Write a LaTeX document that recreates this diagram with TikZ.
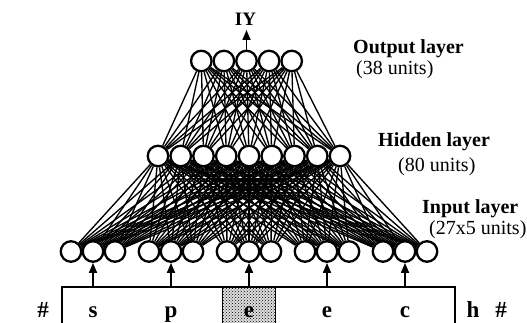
\documentclass[tikz,border=0pt]{standalone}
\usepackage{fontspec}
\setmainfont{Liberation Serif}
\usetikzlibrary{arrows.meta,patterns,backgrounds}
\begin{document}
\begin{tikzpicture}[x=1pt,y=-1pt,
  unit/.style={circle,draw,line width=2.3pt,fill=white,minimum size=20.5pt,inner sep=0pt},
  conn/.style={line width=1.35pt},
  uparrow/.style={line width=1.7pt,-{Triangle[length=10pt,width=8pt]}},
  lbl/.style={font=\bfseries\fontsize{20}{23}\selectfont,anchor=base west,inner sep=0pt},
  sublbl/.style={font=\fontsize{20}{23}\selectfont,anchor=base west,inner sep=0pt},
  letter/.style={font=\bfseries\fontsize{23}{26}\selectfont,anchor=base,inner sep=0pt}]
\useasboundingbox (0,0) rectangle (527,323);
% input layer
\foreach \g in {0,...,4}
  \foreach \j in {0,1,2}{
    \pgfmathsetmacro\xx{93+78*\g+22*(\j-1)}
    \node[unit] (i\g\j) at (\xx,251.5) {};
  }
% hidden layer
\foreach \k in {0,...,8}
  \node[unit] (h\k) at ({249+22.75*(\k-4)},156) {};
% output layer
\foreach \k in {0,...,4}
  \node[unit] (o\k) at ({246.5+22.6*(\k-2)},61) {};
% connections
\begin{scope}[on background layer]
  \foreach \g in {0,...,4}
    \foreach \j in {0,1,2}
      \foreach \k in {0,...,8}
        \draw[conn] (i\g\j) -- (h\k);
  \foreach \k in {0,...,8}
    \foreach \m in {0,...,4}
      \draw[conn] (h\k) -- (o\m);
\end{scope}
% output arrow and label
\node[font=\bfseries\fontsize{19}{21}\selectfont,inner sep=0pt] (iy) at (245.5,19) {IY};
\coordinate (iytip) at (246.5,30);
\draw[uparrow] (o2) -- (iytip);
% layer labels
\node[lbl] (outl) at (353,54) {Output layer};
\node[sublbl] (outs) at (356,75) {(38 units)};
\node[lbl] (hidl) at (378,147) {Hidden layer};
\node[sublbl] (hids) at (398,172) {(80 units)};
\node[lbl] (inl) at (422,213) {Input layer};
\node[sublbl] (ins) at (429,234) {(27x5 units)};
% input window
\fill[gray!25] (222,287) rectangle (275,323);
\fill[pattern=crosshatch dots] (222,287) rectangle (275,323);
\draw[line width=0.9pt] (222,287) -- (222,323) (275,287) -- (275,323);
\draw[line width=1.6pt] (62,323) -- (62,287) -- (455,287) -- (455,323);
\foreach \g/\c in {0/s,1/p,2/e,3/e,4/c}{
  \coordinate (b\g) at ({93+78*\g},287);
  \draw[uparrow] (b\g) -- (i\g1);
  \node[letter] (l\g) at ({93+78*\g},317) {\c};
}
\node[letter] (hashl) at (43,317) {\#};
\node[letter] (hch) at (473,317) {h};
\node[letter] (hashr) at (501,317) {\#};
\end{tikzpicture}
\end{document}
